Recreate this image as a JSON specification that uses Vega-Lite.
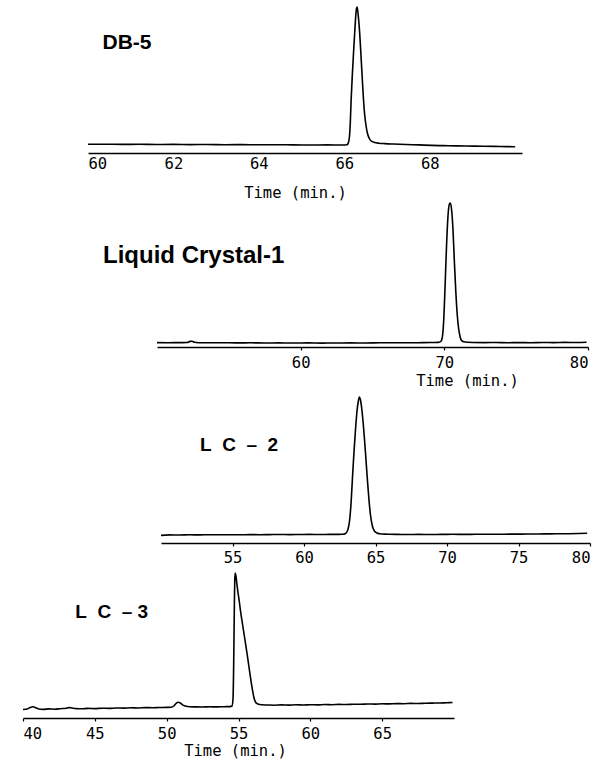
{
  "$schema": "https://vega.github.io/schema/vega-lite/v6.json",
  "padding": 0,
  "background": "white",
  "spacing": 0,
  "bounds": "flush",
  "config": {
    "view": {"stroke": null},
    "axis": {
      "grid": false,
      "domainColor": "black",
      "domainWidth": 1.6,
      "tickColor": "black",
      "tickWidth": 1.2,
      "labelColor": "black",
      "labelFont": "DejaVu Sans Mono",
      "labelFontSize": 15.5,
      "titleColor": "black",
      "titleFont": "DejaVu Sans Mono",
      "titleFontSize": 15.5,
      "titleFontWeight": "normal",
      "titleBaseline": "middle",
      "format": "d"
    },
    "text": {"font": "Liberation Sans", "color": "black", "fontWeight": "bold"}
  },
  "datasets": {
    "db5": [
      {"t": 60.0, "s": 8.7}, {"t": 60.4, "s": 8.8}, {"t": 60.8, "s": 8.6}, {"t": 61.2, "s": 8.7},
      {"t": 61.6, "s": 8.5}, {"t": 62.0, "s": 8.6}, {"t": 62.4, "s": 8.4}, {"t": 62.8, "s": 8.5},
      {"t": 63.2, "s": 8.3}, {"t": 63.6, "s": 8.4}, {"t": 64.0, "s": 8.2}, {"t": 64.4, "s": 8.3},
      {"t": 64.8, "s": 8.1}, {"t": 65.2, "s": 8.0}, {"t": 65.6, "s": 8.1}, {"t": 65.95, "s": 8.0},
      {"t": 66.06, "s": 8.3}, {"t": 66.09, "s": 9.5}, {"t": 66.12, "s": 16}, {"t": 66.14, "s": 30},
      {"t": 66.16, "s": 53}, {"t": 66.19, "s": 80}, {"t": 66.22, "s": 103}, {"t": 66.25, "s": 125},
      {"t": 66.28, "s": 143}, {"t": 66.3, "s": 146}, {"t": 66.32, "s": 140}, {"t": 66.36, "s": 120},
      {"t": 66.39, "s": 98}, {"t": 66.42, "s": 75}, {"t": 66.45, "s": 53}, {"t": 66.48, "s": 37},
      {"t": 66.51, "s": 27}, {"t": 66.54, "s": 20}, {"t": 66.58, "s": 15}, {"t": 66.63, "s": 12},
      {"t": 66.71, "s": 10.5}, {"t": 66.81, "s": 9.8}, {"t": 66.95, "s": 9.4}, {"t": 67.15, "s": 9.0},
      {"t": 67.45, "s": 8.5}, {"t": 67.75, "s": 8.1}, {"t": 68.05, "s": 7.6}, {"t": 68.45, "s": 7.3},
      {"t": 68.85, "s": 7.0}, {"t": 69.25, "s": 6.8}, {"t": 69.65, "s": 6.5}, {"t": 70.0, "s": 6.3}
    ],
    "lc1": [
      {"t": 50.0, "s": 4.4}, {"t": 50.8, "s": 4.3}, {"t": 51.6, "s": 4.4}, {"t": 52.1, "s": 4.5},
      {"t": 52.3, "s": 5.6}, {"t": 52.45, "s": 5.8}, {"t": 52.6, "s": 4.8}, {"t": 52.9, "s": 4.3},
      {"t": 53.5, "s": 4.2}, {"t": 54.5, "s": 4.3}, {"t": 55.5, "s": 4.1}, {"t": 56.5, "s": 4.2},
      {"t": 57.5, "s": 4.0}, {"t": 58.5, "s": 4.1}, {"t": 59.5, "s": 4.0}, {"t": 60.5, "s": 4.1},
      {"t": 61.5, "s": 3.9}, {"t": 62.5, "s": 4.0}, {"t": 63.5, "s": 4.1}, {"t": 64.5, "s": 4.0},
      {"t": 65.5, "s": 4.2}, {"t": 66.5, "s": 4.3}, {"t": 67.5, "s": 4.2}, {"t": 68.5, "s": 4.4},
      {"t": 69.2, "s": 4.5}, {"t": 69.6, "s": 4.6}, {"t": 69.75, "s": 5.5}, {"t": 69.85, "s": 9},
      {"t": 69.95, "s": 25}, {"t": 70.05, "s": 60}, {"t": 70.15, "s": 100}, {"t": 70.25, "s": 130},
      {"t": 70.35, "s": 143}, {"t": 70.42, "s": 144}, {"t": 70.5, "s": 138}, {"t": 70.6, "s": 118},
      {"t": 70.7, "s": 85}, {"t": 70.8, "s": 55}, {"t": 70.9, "s": 32}, {"t": 71.0, "s": 18},
      {"t": 71.1, "s": 10}, {"t": 71.2, "s": 6.5}, {"t": 71.35, "s": 5.2}, {"t": 71.6, "s": 4.7},
      {"t": 72.0, "s": 4.5}, {"t": 72.8, "s": 4.4}, {"t": 73.6, "s": 4.5}, {"t": 74.4, "s": 4.3},
      {"t": 75.2, "s": 4.4}, {"t": 76.0, "s": 4.3}, {"t": 76.8, "s": 4.5}, {"t": 77.6, "s": 4.4},
      {"t": 78.4, "s": 4.6}, {"t": 79.2, "s": 4.5}, {"t": 79.9, "s": 4.7}
    ],
    "lc2": [
      {"t": 50.0, "s": 7.6}, {"t": 50.6, "s": 8.1}, {"t": 51.3, "s": 8.0}, {"t": 52.0, "s": 8.2},
      {"t": 52.7, "s": 8.1}, {"t": 53.4, "s": 8.3}, {"t": 54.1, "s": 8.2}, {"t": 54.8, "s": 8.3},
      {"t": 55.5, "s": 8.2}, {"t": 56.2, "s": 8.4}, {"t": 56.9, "s": 8.3}, {"t": 57.6, "s": 8.4},
      {"t": 58.3, "s": 8.5}, {"t": 59.0, "s": 8.4}, {"t": 59.7, "s": 8.5}, {"t": 60.4, "s": 8.6},
      {"t": 61.1, "s": 8.5}, {"t": 61.8, "s": 8.6}, {"t": 62.4, "s": 8.6}, {"t": 62.7, "s": 8.7},
      {"t": 62.9, "s": 9.5}, {"t": 63.0, "s": 11}, {"t": 63.1, "s": 15}, {"t": 63.2, "s": 24},
      {"t": 63.3, "s": 42}, {"t": 63.4, "s": 68}, {"t": 63.5, "s": 92}, {"t": 63.6, "s": 113},
      {"t": 63.7, "s": 131}, {"t": 63.8, "s": 142}, {"t": 63.87, "s": 146}, {"t": 63.95, "s": 143},
      {"t": 64.05, "s": 133}, {"t": 64.15, "s": 118}, {"t": 64.25, "s": 100}, {"t": 64.35, "s": 80},
      {"t": 64.45, "s": 60}, {"t": 64.55, "s": 42}, {"t": 64.65, "s": 28}, {"t": 64.75, "s": 19},
      {"t": 64.85, "s": 14}, {"t": 64.95, "s": 11.5}, {"t": 65.1, "s": 10}, {"t": 65.3, "s": 9.3},
      {"t": 65.6, "s": 8.9}, {"t": 66.0, "s": 8.7}, {"t": 66.6, "s": 8.6}, {"t": 67.3, "s": 8.5},
      {"t": 68.0, "s": 8.6}, {"t": 68.8, "s": 8.5}, {"t": 69.6, "s": 8.6}, {"t": 70.4, "s": 8.7},
      {"t": 71.2, "s": 8.6}, {"t": 72.0, "s": 8.7}, {"t": 72.8, "s": 8.8}, {"t": 73.6, "s": 8.7},
      {"t": 74.4, "s": 8.9}, {"t": 75.2, "s": 8.9}, {"t": 76.0, "s": 9.0}, {"t": 76.8, "s": 9.1},
      {"t": 77.6, "s": 9.2}, {"t": 78.4, "s": 9.3}, {"t": 79.2, "s": 9.5}, {"t": 79.8, "s": 9.8}
    ],
    "lc3": [
      {"t": 40.0, "s": 8.5}, {"t": 40.3, "s": 9.0}, {"t": 40.5, "s": 10.5}, {"t": 40.7, "s": 11.2},
      {"t": 40.9, "s": 10.2}, {"t": 41.1, "s": 9.0}, {"t": 41.4, "s": 8.6}, {"t": 41.8, "s": 9.1},
      {"t": 42.2, "s": 8.8}, {"t": 42.6, "s": 9.3}, {"t": 43.0, "s": 9.8}, {"t": 43.2, "s": 10.4},
      {"t": 43.4, "s": 10.0}, {"t": 43.7, "s": 9.4}, {"t": 44.1, "s": 9.2}, {"t": 44.5, "s": 9.6},
      {"t": 45.0, "s": 9.4}, {"t": 45.5, "s": 9.8}, {"t": 46.0, "s": 9.6}, {"t": 46.5, "s": 10.0},
      {"t": 47.0, "s": 9.9}, {"t": 47.5, "s": 10.2}, {"t": 48.0, "s": 10.0}, {"t": 48.5, "s": 10.4},
      {"t": 49.0, "s": 10.3}, {"t": 49.5, "s": 10.5}, {"t": 50.0, "s": 10.6}, {"t": 50.3, "s": 10.8},
      {"t": 50.5, "s": 12.0}, {"t": 50.65, "s": 14.5}, {"t": 50.8, "s": 15.8}, {"t": 50.95, "s": 15.0},
      {"t": 51.1, "s": 13.2}, {"t": 51.3, "s": 12.0}, {"t": 51.6, "s": 11.3}, {"t": 52.0, "s": 11.1},
      {"t": 52.5, "s": 11.0}, {"t": 53.0, "s": 11.2}, {"t": 53.5, "s": 11.1}, {"t": 54.0, "s": 11.3},
      {"t": 54.4, "s": 11.4}, {"t": 54.55, "s": 12.0}, {"t": 54.62, "s": 20}, {"t": 54.67, "s": 60},
      {"t": 54.71, "s": 110}, {"t": 54.74, "s": 138}, {"t": 54.77, "s": 145}, {"t": 54.82, "s": 142},
      {"t": 54.88, "s": 135}, {"t": 54.95, "s": 127}, {"t": 55.05, "s": 117}, {"t": 55.15, "s": 106},
      {"t": 55.3, "s": 92}, {"t": 55.45, "s": 78}, {"t": 55.6, "s": 64}, {"t": 55.72, "s": 52},
      {"t": 55.84, "s": 40}, {"t": 55.96, "s": 29}, {"t": 56.08, "s": 20}, {"t": 56.2, "s": 15.5},
      {"t": 56.35, "s": 14}, {"t": 56.6, "s": 13.2}, {"t": 57.0, "s": 13.0}, {"t": 57.5, "s": 12.8},
      {"t": 58.0, "s": 13.1}, {"t": 58.5, "s": 12.9}, {"t": 59.0, "s": 13.2}, {"t": 59.5, "s": 13.0},
      {"t": 60.0, "s": 13.3}, {"t": 60.5, "s": 13.1}, {"t": 61.0, "s": 13.5}, {"t": 61.5, "s": 13.3},
      {"t": 62.0, "s": 13.6}, {"t": 62.5, "s": 13.5}, {"t": 63.0, "s": 13.8}, {"t": 63.5, "s": 13.7},
      {"t": 64.0, "s": 14.0}, {"t": 64.5, "s": 13.9}, {"t": 65.0, "s": 14.2}, {"t": 65.5, "s": 14.1},
      {"t": 66.0, "s": 14.4}, {"t": 66.5, "s": 14.3}, {"t": 67.0, "s": 14.6}, {"t": 67.5, "s": 14.5},
      {"t": 68.0, "s": 14.8}, {"t": 68.5, "s": 14.9}, {"t": 69.0, "s": 15.0}, {"t": 69.5, "s": 15.3},
      {"t": 69.9, "s": 15.5}
    ]
  },
  "vconcat": [
    {
      "width": 613,
      "height": 153,
      "layer": [
        {
          "data": {"name": "db5"},
          "mark": {"type": "line", "color": "black", "strokeWidth": 1.6, "interpolate": "monotone"},
          "encoding": {
            "x": {"field": "t", "type": "quantitative",
                  "scale": {"domain": [60, 70.16], "range": [88, 522], "nice": false, "zero": false},
                  "axis": {"values": [60, 62, 64, 66, 68], "ticks": false, "tickSize": 0, "labelPadding": 3,
                           "title": "Time (min.)", "titleX": 295, "titleY": 39}},
            "y": {"field": "s", "type": "quantitative", "scale": {"domain": [0, 153], "nice": false, "zero": true}, "axis": null}
          }
        },
        {
          "data": {"values": [{"label": "DB-5"}]},
          "mark": {"type": "text", "align": "left", "baseline": "middle", "fontSize": 21},
          "encoding": {
            "text": {"field": "label"},
            "x": {"datum": 60.34, "type": "quantitative"},
            "y": {"datum": 110.5, "type": "quantitative"}
          }
        }
      ]
    },
    {
      "width": 613,
      "height": 194,
      "layer": [
        {
          "data": {"name": "lc1"},
          "mark": {"type": "line", "color": "black", "strokeWidth": 1.6, "interpolate": "monotone"},
          "encoding": {
            "x": {"field": "t", "type": "quantitative",
                  "scale": {"domain": [50, 80], "range": [157, 588], "nice": false, "zero": false},
                  "axis": {"values": [60, 70, 80], "tickSize": 3, "labelPadding": 5.9,
                           "title": "Time (min.)", "titleX": 467, "titleY": 33}},
            "y": {"field": "s", "type": "quantitative", "scale": {"domain": [0, 194], "nice": false, "zero": true}, "axis": null}
          }
        },
        {
          "data": {"values": [{"label": "Liquid Crystal-1"}]},
          "mark": {"type": "text", "align": "left", "baseline": "middle", "fontSize": 24},
          "encoding": {
            "text": {"field": "label"},
            "x": {"datum": 46.24, "type": "quantitative"},
            "y": {"datum": 91, "type": "quantitative"}
          }
        }
      ]
    },
    {
      "width": 613,
      "height": 196,
      "layer": [
        {
          "data": {"name": "lc2"},
          "mark": {"type": "line", "color": "black", "strokeWidth": 1.6, "interpolate": "monotone"},
          "encoding": {
            "x": {"field": "t", "type": "quantitative",
                  "scale": {"domain": [50, 80], "range": [161, 590], "nice": false, "zero": false},
                  "axis": {"values": [55, 60, 65, 70, 75, 80], "tickSize": 3, "labelPadding": 4.4, "title": null}},
            "y": {"field": "s", "type": "quantitative", "scale": {"domain": [0, 196], "nice": false, "zero": true}, "axis": null}
          }
        },
        {
          "data": {"values": [{"label": "L\u00a0\u00a0C\u00a0\u00a0–\u00a0\u00a02"}]},
          "mark": {"type": "text", "align": "left", "baseline": "middle", "fontSize": 19},
          "encoding": {
            "text": {"field": "label"},
            "x": {"datum": 52.73, "type": "quantitative"},
            "y": {"datum": 98, "type": "quantitative"}
          }
        }
      ]
    },
    {
      "width": 613,
      "height": 175,
      "layer": [
        {
          "data": {"name": "lc3"},
          "mark": {"type": "line", "color": "black", "strokeWidth": 1.6, "interpolate": "monotone"},
          "encoding": {
            "x": {"field": "t", "type": "quantitative",
                  "scale": {"domain": [40, 70], "range": [23, 454], "nice": false, "zero": false},
                  "axis": {"values": [40, 45, 50, 55, 60, 65], "tickSize": 3, "labelPadding": 5.7,
                           "title": "Time (min.)", "titleX": 235, "titleY": 32}},
            "y": {"field": "s", "type": "quantitative", "scale": {"domain": [0, 175], "nice": false, "zero": true}, "axis": null}
          }
        },
        {
          "data": {"values": [{"label": "L\u00a0\u00a0C\u00a0\u00a0–\u00a03"}]},
          "mark": {"type": "text", "align": "left", "baseline": "middle", "fontSize": 19},
          "encoding": {
            "text": {"field": "label"},
            "x": {"datum": 43.64, "type": "quantitative"},
            "y": {"datum": 106, "type": "quantitative"}
          }
        }
      ]
    }
  ]
}
